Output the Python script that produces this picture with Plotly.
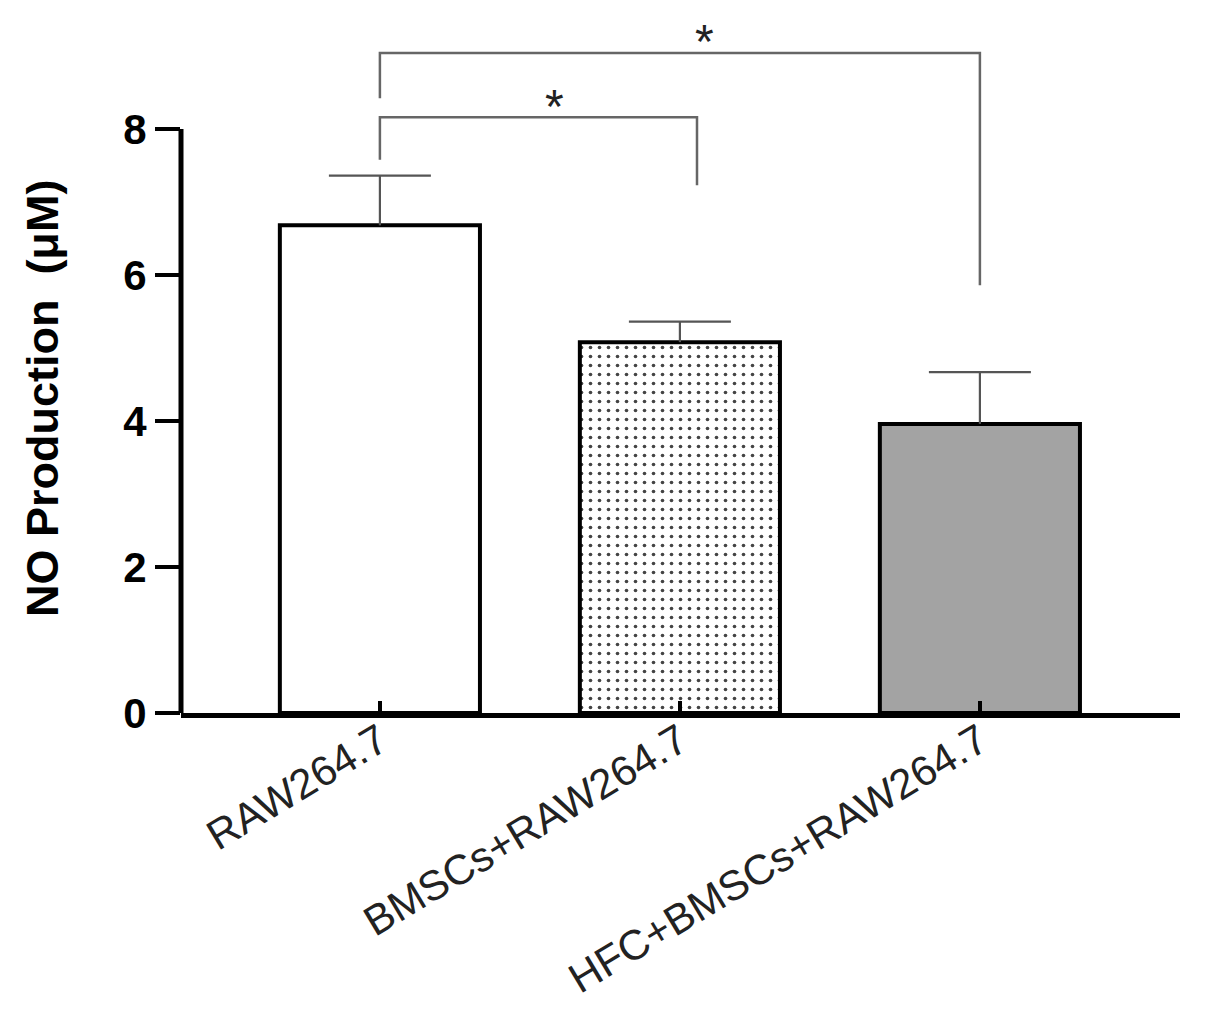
import plotly.graph_objects as go

# ---- data ----
categories = ["RAW264.7", "BMSCs+RAW264.7", "HFC+BMSCs+RAW264.7"]
means = [6.68, 5.08, 3.96]
errors = [0.68, 0.28, 0.71]
bar_colors = ["white", "white", "#a3a3a3"]
bar_patterns = ["", ".", ""]

y_ticks = [0, 2, 4, 6, 8]
y_axis_max = 8
y_title = "NO Production\u00a0\u00a0(\u03bcM)"

# significance brackets
bracket_left = [0, 0]
bracket_right = [2, 1.057]
bracket_height = [9.04, 8.16]
bracket_left_end = [8.42, 7.58]
bracket_right_end = [5.86, 7.23]
bracket_label = ["*", "*"]
star_x = [1.083, 0.583]
star_y = [9.29, 8.40]

FONT = "Arial, Liberation Sans, sans-serif"
CAP_HALF = 0.17  # error-bar cap half width (x units)

xs = list(range(len(categories)))

fig = go.Figure()
fig.add_trace(go.Bar(
    x=xs,
    y=means,
    width=0.667,
    marker=dict(
        color=bar_colors,
        line=dict(color="black", width=4),
        pattern=dict(shape=bar_patterns, fgcolor="#b8b8b8",
                     size=9, solidity=0.13, fillmode="overlay", fgopacity=1),
    ),
    showlegend=False,
))

# upward-only error bars built from the data
ex, ey = [], []
for x, m, e in zip(xs, means, errors):
    ex += [x, x, None, x - CAP_HALF, x + CAP_HALF, None]
    ey += [m, m + e, None, m + e, m + e, None]
fig.add_trace(go.Scatter(x=ex, y=ey, mode="lines",
                         line=dict(color="#555555", width=2.2),
                         showlegend=False, hoverinfo="skip"))

# brackets
for i in range(len(bracket_left)):
    xl, xr, h = bracket_left[i], bracket_right[i], bracket_height[i]
    fig.add_trace(go.Scatter(
        x=[xl, xl, xr, xr],
        y=[bracket_left_end[i], h, h, bracket_right_end[i]],
        mode="lines",
        line=dict(color="#666666", width=2.5),
        showlegend=False, hoverinfo="skip",
    ))
    fig.add_annotation(x=star_x[i], y=star_y[i], text=bracket_label[i],
                       showarrow=False, xref="x", yref="y",
                       font=dict(family=FONT, size=48, color="#222"),
                       yanchor="middle", yshift=-7)

# visible y-axis line (only up to 8)
fig.add_shape(type="line", xref="paper", yref="y", x0=0, x1=0,
              y0=0, y1=y_axis_max, line=dict(color="black", width=5))

# y-axis title
fig.add_annotation(text=y_title, textangle=-90, showarrow=False,
                   xref="paper", yref="y", x=0, y=4.3, xanchor="center",
                   yanchor="middle", xshift=-139,
                   font=dict(family=FONT, size=45, weight="bold", color="black"))

fig.update_layout(
    width=1197, height=1014,
    margin=dict(l=173, r=25, t=2, b=309),
    plot_bgcolor="white", paper_bgcolor="white",
    font=dict(family=FONT, color="black"),
)
fig.update_xaxes(
    range=[-0.663, 2.667],
    tickvals=xs,
    ticktext=categories,
    tickangle=-31,
    tickfont=dict(family=FONT, size=42, color="#222"),
    ticks="inside", ticklen=12, tickwidth=4, tickcolor="black",
    ticklabelstandoff=-18,
    showline=True, linecolor="black", linewidth=5,
    showgrid=False, zeroline=False, automargin=False,
)
fig.update_yaxes(
    range=[0, 9.63],
    tickvals=y_ticks,
    ticks="outside", ticklen=25, tickwidth=4, tickcolor="black",
    tickfont=dict(family=FONT, size=42, color="black", weight="bold"),
    showline=False, showgrid=False, zeroline=False, automargin=False,
)

fig.write_html("out.html")
